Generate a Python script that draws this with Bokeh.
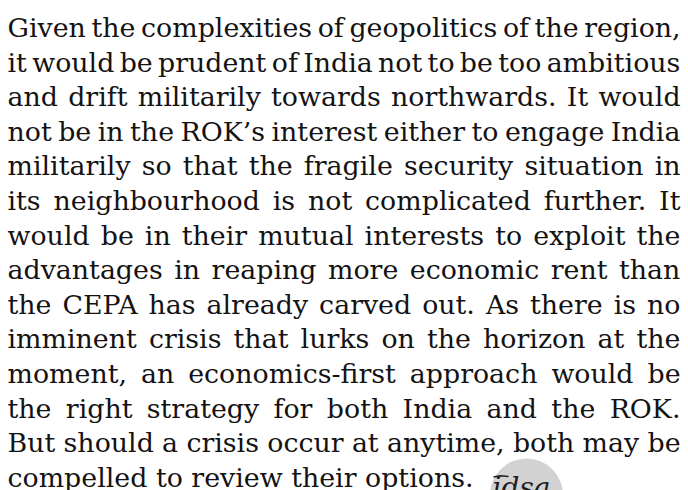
import glob
import os
import subprocess

from bokeh.plotting import figure
from bokeh.models import ColumnDataSource, Range1d
from bokeh.core.properties import value
from bokeh.embed import file_html
from bokeh.resources import INLINE

# ---- content -------------------------------------------------------------
lines = [
    "Given the complexities of geopolitics of the region,",
    "it would be prudent of India not to be too ambitious",
    "and drift militarily towards northwards. It would",
    "not be in the ROK\u2019s interest either to engage India",
    "militarily so that the fragile security situation in",
    "its neighbourhood is not complicated further. It",
    "would be in their mutual interests to exploit the",
    "advantages in reaping more economic rent than",
    "the CEPA has already carved out. As there is no",
    "imminent crisis that lurks on the horizon at the",
    "moment, an economics-first approach would be",
    "the right strategy for both India and the ROK.",
    "But should a crisis occur at anytime, both may be",
    "compelled to review their options.",
]
logo_text = ["idsa"]

# ---- layout constants ----------------------------------------------------
W, H = 688, 490
FONT = "DejaVu Serif"
TEXT_COLOR = "#141213"
LEFT, RIGHT = 7.0, 680.0   # ink edges of the justified block
LAST_LINE_INK = 466.0      # natural ink width of the final (unjustified) line
BASE0 = 27.0               # first baseline (px, figure coords)
LEAD = 34.6                # line spacing (px)


def find_font_file():
    try:
        out = subprocess.run(["fc-match", "-f", "%{file}", FONT],
                             capture_output=True, text=True, timeout=5).stdout.strip()
        if out and os.path.exists(out) and "Serif" in out:
            return out
    except Exception:
        pass
    for d in ["/usr/share/fonts", "/usr/local/share/fonts",
              os.path.expanduser("~/.fonts"), os.path.expanduser("~/.local/share/fonts")]:
        hits = glob.glob(os.path.join(d, "**", "DejaVuSerif.ttf"), recursive=True)
        if hits:
            return hits[0]
    return None


font_file = find_font_file()
REF = 100.0
measure_font = None
try:
    from PIL import ImageFont
    if font_file:
        measure_font = ImageFont.truetype(font_file, int(REF))
except Exception:
    measure_font = None


def adv(s):
    if measure_font is not None:
        return measure_font.getlength(s) / REF
    return 0.56 * len(s)


def ink(s):
    if measure_font is not None:
        l, t, r, b = measure_font.getbbox(s)
        return l / REF, r / REF
    return 0.02, 0.56 * len(s)


l_last, r_last = ink(lines[-1])
size = LAST_LINE_INK / (r_last - l_last)

xs, ys, texts = [], [], []
for i, line in enumerate(lines):
    words = line.split(" ")
    y = BASE0 + LEAD * i
    advs = [adv(w) * size for w in words]
    lb = ink(words[0])[0] * size
    x0 = LEFT - lb
    if i == len(lines) - 1 or len(words) == 1:
        gap = adv(" ") * size
    else:
        rr = ink(words[-1])[1] * size
        xl = RIGHT - rr
        gap = (xl - x0 - sum(advs[:-1])) / (len(words) - 1)
    x = x0
    for w, a in zip(words, advs):
        xs.append(x)
        ys.append(y)
        texts.append(w)
        x += a + gap

src = ColumnDataSource(dict(x=xs, y=ys, text=texts))

p = figure(width=W, height=H, x_range=Range1d(0, W), y_range=Range1d(H, 0),
           output_backend="svg", toolbar_location=None, min_border=0,
           x_axis_location=None, y_axis_location=None)
p.grid.visible = False
p.outline_line_color = None
p.background_fill_color = "white"
p.border_fill_color = "white"

# logo (partially visible at the bottom)
p.circle(x=[526], y=[494.5], radius=36.5, fill_color="#d2d2d2", line_color=None)
p.line(x=[493, 500, 508], y=[476.5, 475.2, 476], line_color="#1e1e1e", line_width=1.6)
p.text(x=[492], y=[487], text=logo_text, text_font=value(FONT),
       text_font_style="italic", text_font_size="28px", text_color="#1e1e1e",
       text_align="left", text_baseline="alphabetic")

p.text(x="x", y="y", text="text", source=src,
       text_font=value(FONT), text_font_size=f"{size:.2f}px",
       text_color=TEXT_COLOR, text_align="left", text_baseline="alphabetic")

open("out.html", "w").write(file_html(p, INLINE))
